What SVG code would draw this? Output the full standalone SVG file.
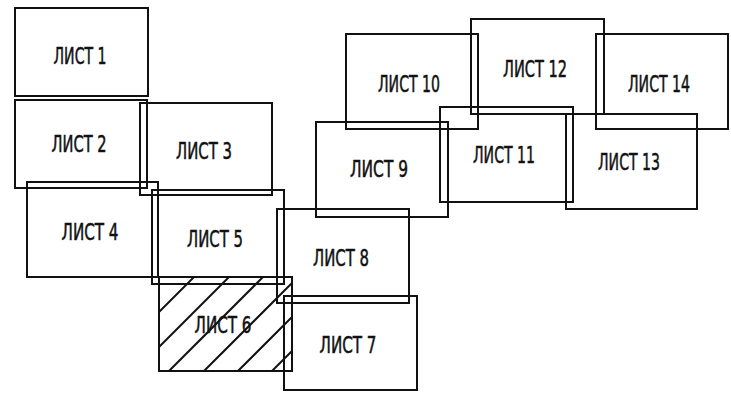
<svg xmlns="http://www.w3.org/2000/svg" width="731" height="394" viewBox="0 0 731 394">
<style>
.b{fill:none;stroke:#111;stroke-width:2}
.h{stroke:#111;stroke-width:2}
.t{font-family:"DejaVu Sans Condensed","Liberation Sans Narrow","Liberation Sans",sans-serif;font-size:23px;fill:#111;stroke:#111;stroke-width:0.5;text-anchor:middle}
</style>
<rect width="731" height="394" fill="#fff"/>
<g id="list1"><rect class="b" x="15" y="8" width="133" height="88"/><text class="t" x="80" y="64" textLength="53" lengthAdjust="spacingAndGlyphs">ЛИСТ 1</text></g>
<g id="list2"><rect class="b" x="15" y="100" width="132" height="88"/><text class="t" x="79" y="152" textLength="55" lengthAdjust="spacingAndGlyphs">ЛИСТ 2</text></g>
<g id="list3"><rect class="b" x="140" y="103" width="132" height="92"/><text class="t" x="204" y="159" textLength="56" lengthAdjust="spacingAndGlyphs">ЛИСТ 3</text></g>
<g id="list4"><rect class="b" x="27" y="182" width="131" height="95"/><text class="t" x="90" y="240" textLength="57" lengthAdjust="spacingAndGlyphs">ЛИСТ 4</text></g>
<g id="list5"><rect class="b" x="152" y="190" width="132" height="94"/><text class="t" x="215" y="247" textLength="56" lengthAdjust="spacingAndGlyphs">ЛИСТ 5</text></g>
<g id="list6">
<rect class="b" x="159" y="277" width="133" height="94"/>
<line class="h" x1="194" y1="277" x2="159" y2="312"/>
<line class="h" x1="229" y1="277" x2="159" y2="347"/>
<line class="h" x1="263" y1="277" x2="169" y2="371"/>
<line class="h" x1="292" y1="283" x2="204" y2="371"/>
<line class="h" x1="292" y1="317" x2="238" y2="371"/>
<line class="h" x1="292" y1="351" x2="272" y2="371"/>
<text class="t" x="223" y="333" textLength="57" lengthAdjust="spacingAndGlyphs">ЛИСТ 6</text></g>
<g id="list7"><rect class="b" x="284" y="296" width="133" height="94"/><text class="t" x="348" y="353" textLength="57" lengthAdjust="spacingAndGlyphs">ЛИСТ 7</text></g>
<g id="list8"><rect class="b" x="277" y="209" width="132" height="94"/><text class="t" x="341" y="266" textLength="56" lengthAdjust="spacingAndGlyphs">ЛИСТ 8</text></g>
<g id="list9"><rect class="b" x="316" y="122" width="132" height="95"/><text class="t" x="379" y="177" textLength="58" lengthAdjust="spacingAndGlyphs">ЛИСТ 9</text></g>
<g id="list10"><rect class="b" x="346" y="34" width="132" height="95"/><text class="t" x="409" y="92" textLength="62" lengthAdjust="spacingAndGlyphs">ЛИСТ 10</text></g>
<g id="list11"><rect class="b" x="440" y="107" width="133" height="95"/><text class="t" x="504" y="163" textLength="62" lengthAdjust="spacingAndGlyphs">ЛИСТ 11</text></g>
<g id="list12"><rect class="b" x="471" y="19" width="133" height="95"/><text class="t" x="535" y="77" textLength="64" lengthAdjust="spacingAndGlyphs">ЛИСТ 12</text></g>
<g id="list13"><rect class="b" x="566" y="114" width="131" height="95"/><text class="t" x="629" y="170" textLength="62" lengthAdjust="spacingAndGlyphs">ЛИСТ 13</text></g>
<g id="list14"><rect class="b" x="596" y="34" width="132" height="95"/><text class="t" x="659" y="92" textLength="62" lengthAdjust="spacingAndGlyphs">ЛИСТ 14</text></g>
<g id="connectors"/>
</svg>
